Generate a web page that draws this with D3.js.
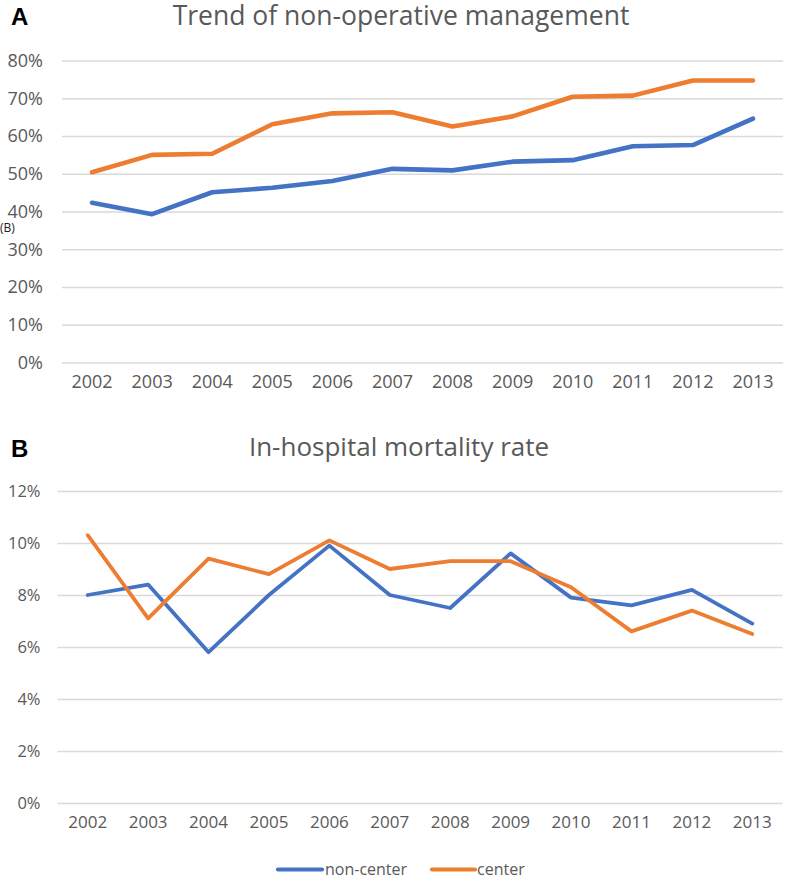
<!DOCTYPE html>
<html>
<head>
<meta charset="utf-8">
<script src="https://cdn.jsdelivr.net/npm/d3@7"></script>
<style>
  html, body { margin: 0; padding: 0; background: #fff; }
  svg { display: block; }
  text { font-family: "Open Sans", sans-serif; }
</style>
</head>
<body>
<svg id="chart" width="787" height="879"></svg>
<script>
// ---- data ----
const years = ["2002","2003","2004","2005","2006","2007","2008","2009","2010","2011","2012","2013"];
const nonOpNonCenter = [42.3, 39.3, 45.1, 46.3, 48.1, 51.3, 50.9, 53.2, 53.6, 57.3, 57.6, 64.6];
const nonOpCenter    = [50.4, 55.0, 55.3, 63.1, 66.0, 66.3, 62.5, 65.2, 70.4, 70.7, 74.7, 74.7];
const mortNonCenter  = [8.0, 8.4, 5.8, 8.0, 9.9, 8.0, 7.5, 9.6, 7.9, 7.6, 8.2, 6.9];
const mortCenter     = [10.3, 7.1, 9.4, 8.8, 10.1, 9.0, 9.3, 9.3, 8.3, 6.6, 7.4, 6.5];
const ticksA = [0, 10, 20, 30, 40, 50, 60, 70, 80];
const ticksB = [0, 2, 4, 6, 8, 10, 12];
const seriesNames = ["non-center", "center"];
const titleA = "Trend of non-operative management";
const titleB = "In-hospital mortality rate";

const colors = { "non-center": "#4472C4", "center": "#ED7D31" };
const svg = d3.select("#chart");

function panel(cfg) {
  const g = svg.append("g");
  const x = d3.scaleBand().domain(years).range([cfg.left, cfg.right]);
  const y = d3.scaleLinear().domain([0, cfg.max]).range([cfg.bottom, cfg.top]);

  // gridlines + y labels
  const yAxis = d3.axisLeft(y).tickValues(cfg.ticks).tickSize(-(cfg.right - cfg.left))
    .tickFormat(d => d + "%").tickPadding(cfg.tickPad);
  const ya = g.append("g").attr("transform", `translate(${cfg.left},0)`).call(yAxis);
  ya.select(".domain").remove();
  ya.selectAll(".tick line").attr("stroke", "#D9D9D9").attr("stroke-width", 1.3);
  ya.selectAll(".tick text").attr("fill", "#595959").style("font-size", cfg.yFont + "px")
    .style("font-family", "'Open Sans', sans-serif");

  // x labels
  const xAxis = d3.axisBottom(x).tickSize(0).tickPadding(cfg.xPad);
  const xa = g.append("g").attr("transform", `translate(0,${cfg.bottom})`).call(xAxis);
  xa.select(".domain").remove();
  xa.selectAll(".tick text").attr("fill", "#595959").style("font-size", cfg.xFont + "px")
    .style("font-family", "'Open Sans', sans-serif");

  const line = d3.line()
    .x((d, i) => x(years[i]) + x.bandwidth() / 2)
    .y(d => y(d));

  cfg.series.forEach(s => {
    g.append("path").datum(s.values)
      .attr("fill", "none")
      .attr("stroke", colors[s.name])
      .attr("stroke-width", cfg.lineW)
      .attr("stroke-linejoin", "round")
      .attr("stroke-linecap", "round")
      .attr("d", line);
  });

  // title
  g.append("text").attr("x", cfg.titleX).attr("y", cfg.titleY)
    .attr("text-anchor", "middle").attr("fill", "#595959")
    .style("font-size", cfg.titleFont + "px").text(cfg.title);
  // panel letter
  g.append("text").attr("x", 11).attr("y", cfg.letterY)
    .attr("fill", "#000").style("font-family", "'Liberation Sans', Arial, sans-serif")
    .style("font-weight", "bold").style("font-size", "24px").text(cfg.letter);
}

panel({
  left: 62, right: 783, top: 60.5, bottom: 362.5, max: 80, ticks: ticksA,
  tickPad: 19, yFont: 18, xPad: 13, xFont: 18, lineW: 4.6,
  series: [{ name: "non-center", values: nonOpNonCenter }, { name: "center", values: nonOpCenter }],
  title: titleA, titleX: 401, titleY: 25, titleFont: 26.5, letter: "A", letterY: 25
});

panel({
  left: 57.5, right: 782.5, top: 491, bottom: 803, max: 12, ticks: ticksB,
  tickPad: 17, yFont: 16.5, xPad: 13, xFont: 17, lineW: 3.8,
  series: [{ name: "non-center", values: mortNonCenter }, { name: "center", values: mortCenter }],
  title: titleB, titleX: 399, titleY: 456, titleFont: 26, letter: "B", letterY: 457
});

// stray "(B)" label
svg.append("text").attr("x", 0).attr("y", 232).attr("fill", "#222")
  .style("font-size", "12px").text("(B)");

// legend
const legendItems = [
  { name: seriesNames[0], x1: 278, x2: 322, tx: 325 },
  { name: seriesNames[1], x1: 432, x2: 475, tx: 477 }
];
const lg = svg.append("g");
legendItems.forEach(it => {
  lg.append("line").attr("x1", it.x1).attr("x2", it.x2).attr("y1", 869.5).attr("y2", 869.5)
    .attr("stroke", colors[it.name]).attr("stroke-width", 4.2).attr("stroke-linecap", "round");
  lg.append("text").attr("x", it.tx).attr("y", 875).attr("fill", "#595959")
    .style("font-size", "16px").text(it.name);
});
</script>
</body>
</html>
